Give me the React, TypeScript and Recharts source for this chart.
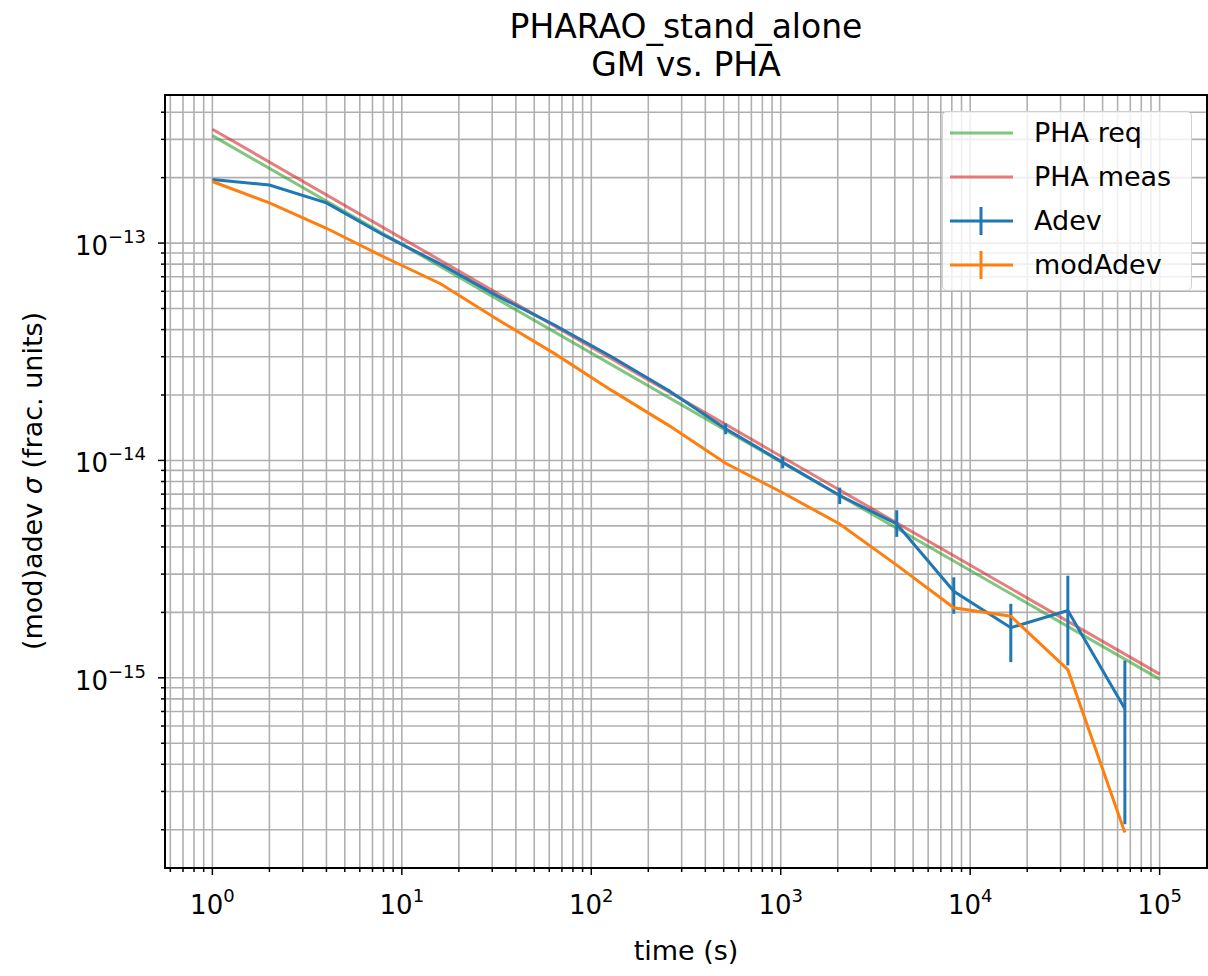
import React from "react";
import {
  CartesianGrid,
  ErrorBar,
  Legend,
  Line,
  LineChart,
  XAxis,
  YAxis,
} from "recharts";

// averaging times (s)
const taus = [1, 2, 4, 8, 16, 32, 64, 128, 256, 512, 1024, 2048, 4096, 8192, 16384, 32768, 65536];

const adev = [
  1.96e-13, 1.85e-13, 1.53e-13, 1.09e-13, 8.0e-14, 5.7e-14, 4.2e-14, 3.0e-14, 2.1e-14,
  1.4e-14, 9.8e-15, 6.9e-15, 5.1e-15, 2.5e-15, 1.7e-15, 2.04e-15, 7.2e-16,
];
const adevLow = [
  1.959e-13, 1.848e-13, 1.527e-13, 1.087e-13, 7.97e-14, 5.67e-14, 4.17e-14, 2.97e-14, 2.07e-14,
  1.32e-14, 9.2e-15, 6.3e-15, 4.45e-15, 1.97e-15, 1.18e-15, 1.14e-15, 2.12e-16,
];
const adevHigh = [
  1.961e-13, 1.852e-13, 1.533e-13, 1.093e-13, 8.03e-14, 5.73e-14, 4.23e-14, 3.03e-14, 2.13e-14,
  1.48e-14, 1.04e-14, 7.5e-15, 5.9e-15, 2.9e-15, 2.19e-15, 2.95e-15, 1.2e-15,
];
const modAdev = [
  1.92e-13, 1.53e-13, 1.17e-13, 8.65e-14, 6.5e-14, 4.45e-14, 3.1e-14, 2.1e-14, 1.45e-14,
  9.7e-15, 7.1e-15, 5.1e-15, 3.3e-15, 2.1e-15, 1.92e-15, 1.09e-15, 1.94e-16,
];

const reqTaus = [1, 100000];
const phaReq = [3.12e-13, 9.86e-16];
const phaMeas = [3.34e-13, 1.04e-15];

// axes
const X_DOMAIN = [0.5623, 177828];
const Y_DOMAIN = [1.3335e-16, 4.8e-13];
const xDecades = [1, 10, 100, 1000, 10000, 100000];
const xExponents = ["0", "1", "2", "3", "4", "5"];
const yDecades = [1e-15, 1e-14, 1e-13];
const yExponents = ["\u221215", "\u221214", "\u221213"];
const minorSteps = [2, 3, 4, 5, 6, 7, 8, 9];
const xMinorBases = [0.1, 1, 10, 100, 1000, 10000];
const yMinorBases = [1e-16, 1e-15, 1e-14, 1e-13];

const legendNames = ["PHA req", "PHA meas", "Adev", "modAdev"];
const legendColors = ["#2ca02c", "#d62728", "#1f77b4", "#ff7f0e"];
const legendOpacity = [0.6, 0.6, 1, 1];
const legendErr = [false, false, true, true];

const FONT = "'DejaVu Sans', sans-serif";

const inDomain = (d: number[]) => (v: number) => v >= d[0] && v <= d[1];
const xTicks = [
  ...xMinorBases.flatMap((b) => minorSteps.map((m) => m * b)),
  ...xDecades,
].filter(inDomain(X_DOMAIN)).sort((a, b) => a - b);
const yTicks = [
  ...yMinorBases.flatMap((b) => minorSteps.map((m) => m * b)),
  ...yDecades,
].filter(inDomain(Y_DOMAIN)).sort((a, b) => a - b);

const majorIndex = (list: number[], v: number) =>
  list.findIndex((d) => Math.abs(v - d) < d * 1e-6);

const adevData = taus.map((tau, i) => ({
  tau,
  adev: adev[i],
  err: [adev[i] - adevLow[i], adevHigh[i] - adev[i]],
}));
const modData = taus.map((tau, i) => ({ tau, mod: modAdev[i] }));
const reqData = reqTaus.map((tau, i) => ({ tau, req: phaReq[i] }));
const measData = reqTaus.map((tau, i) => ({ tau, meas: phaMeas[i] }));

function XTick(props: any) {
  const { x, y, payload } = props;
  const k = majorIndex(xDecades, payload.value);
  const major = k >= 0;
  return (
    <g>
      <line x1={x} x2={x} y1={y} y2={y + (major ? 7 : 4)} stroke="#000" strokeWidth={1.5} />
      {major && (
        <text x={x} y={y + 46} textAnchor="middle" fontSize={26} fontFamily={FONT} fill="#000">
          10
          <tspan dy={-12} fontSize={18}>
            {xExponents[k]}
          </tspan>
        </text>
      )}
    </g>
  );
}

function YTick(props: any) {
  const { x, y, payload } = props;
  const k = majorIndex(yDecades, payload.value);
  const major = k >= 0;
  return (
    <g>
      <line x1={x - (major ? 7 : 4)} x2={x} y1={y} y2={y} stroke="#000" strokeWidth={1.5} />
      {major && (
        <text x={x - 19} y={y + 12} textAnchor="end" fontSize={26} fontFamily={FONT} fill="#000">
          10
          <tspan dy={-12} fontSize={18}>
            {yExponents[k]}
          </tspan>
        </text>
      )}
    </g>
  );
}

function XTitle() {
  return (
    <text x={686} y={960} textAnchor="middle" fontSize={27} fontFamily={FONT} fill="#000">
      time (s)
    </text>
  );
}

function YTitle() {
  return (
    <text
      transform="translate(42,481) rotate(-90)"
      textAnchor="middle"
      fontSize={27}
      fontFamily={FONT}
      fill="#000"
    >
      (mod)adev <tspan fontStyle="italic">σ</tspan> (frac. units)
    </text>
  );
}

function LegendBox() {
  return (
    <div
      style={{
        position: "relative",
        width: 250,
        height: 180,
        boxSizing: "border-box",
        border: "1.5px solid #d0d0d0",
        borderRadius: 5,
        background: "rgba(255,255,255,0.8)",
        fontFamily: FONT,
        fontSize: 27,
        color: "#000",
      }}
    >
      {legendNames.map((name, i) => (
        <div
          key={name}
          style={{
            position: "absolute",
            left: 0,
            top: 21 + i * 44 - 20,
            height: 40,
            display: "flex",
            alignItems: "center",
          }}
        >
          <svg width={91} height={40} style={{ display: "block" }}>
            <line
              x1={7}
              x2={70}
              y1={20}
              y2={20}
              stroke={legendColors[i]}
              strokeOpacity={legendOpacity[i]}
              strokeWidth={3}
            />
            {legendErr[i] && (
              <line x1={38} x2={38} y1={6} y2={34} stroke={legendColors[i]} strokeWidth={3} />
            )}
          </svg>
          <span style={{ lineHeight: "40px", whiteSpace: "nowrap" }}>{name}</span>
        </div>
      ))}
    </div>
  );
}

export default function App() {
  return (
    <div style={{ position: "absolute", left: 0, top: 0, width: 1208, height: 976, background: "#fff" }}>
      <div
        style={{
          position: "absolute",
          left: 0,
          top: 8,
          width: 1372,
          textAlign: "center",
          fontFamily: FONT,
          fontSize: 33,
          lineHeight: "38px",
          color: "#000",
        }}
      >
        <div>PHARAO_stand_alone</div>
        <div>GM vs. PHA</div>
      </div>
      <LineChart width={1208} height={976} margin={{ top: 95, right: 1, bottom: 0, left: 0 }}>
        <CartesianGrid stroke="#b0b0b0" strokeWidth={1.6} />
        <XAxis
          dataKey="tau"
          type="number"
          scale="log"
          domain={X_DOMAIN}
          allowDataOverflow
          ticks={xTicks}
          interval={0}
          tick={<XTick />}
          tickSize={0}
          tickMargin={0}
          tickLine={false}
          axisLine={false}
          height={108}
          label={<XTitle />}
        />
        <YAxis
          type="number"
          scale="log"
          domain={Y_DOMAIN}
          allowDataOverflow
          ticks={yTicks}
          interval={0}
          tick={<YTick />}
          tickSize={0}
          tickMargin={0}
          tickLine={false}
          axisLine={false}
          width={165}
          label={<YTitle />}
        />
        <Legend
          layout="vertical"
          align="center"
          verticalAlign="middle"
          content={() => <LegendBox />}
          wrapperStyle={{ left: 942, top: 111, width: 250, height: 180 }}
        />
        <Line
          data={reqData}
          dataKey="req"
          name="PHA req"
          stroke="#2ca02c"
          strokeOpacity={0.6}
          strokeWidth={3}
          dot={false}
          activeDot={false}
          isAnimationActive={false}
        />
        <Line
          data={measData}
          dataKey="meas"
          name="PHA meas"
          stroke="#d62728"
          strokeOpacity={0.6}
          strokeWidth={3}
          dot={false}
          activeDot={false}
          isAnimationActive={false}
        />
        <Line
          data={adevData}
          dataKey="adev"
          name="Adev"
          stroke="#1f77b4"
          strokeWidth={3}
          dot={false}
          activeDot={false}
          isAnimationActive={false}
        >
          <ErrorBar dataKey="err" direction="y" width={0} stroke="#1f77b4" strokeWidth={3} />
        </Line>
        <Line
          data={modData}
          dataKey="mod"
          name="modAdev"
          stroke="#ff7f0e"
          strokeWidth={3}
          dot={false}
          activeDot={false}
          isAnimationActive={false}
        />
      </LineChart>
      <div
        style={{
          position: "absolute",
          left: 164,
          top: 94,
          width: 1044,
          height: 775,
          boxSizing: "border-box",
          border: "2px solid #000",
          pointerEvents: "none",
        }}
      />
    </div>
  );
}
